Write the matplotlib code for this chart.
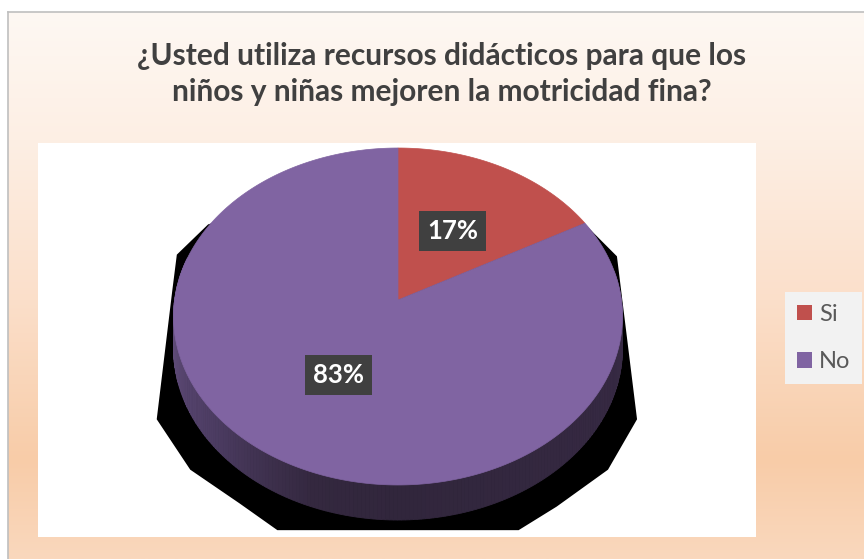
import numpy as np
import matplotlib
matplotlib.use("Agg")
import matplotlib.pyplot as plt
from matplotlib.patches import Polygon, Rectangle, Patch
from matplotlib.colors import to_rgb

# ---------------- data ----------------
title = "¿Usted utiliza recursos didácticos para que los\nniños y niñas mejoren la motricidad fina?"
categories = ["Si", "No"]
values = [17, 83]
colors = ["#C0504D", "#8064A2"]

# ---------------- figure ----------------
W, H = 864, 559
fig = plt.figure(figsize=(W / 100, H / 100), dpi=100)
ax = fig.add_axes([0, 0, 1, 1])
ax.set_xlim(0, W)
ax.set_ylim(H, 0)
ax.axis("off")

# background gradient of chart area
stops_y = [12, 140, 300, 460, 559]
stops_c = ["#FEF8F3", "#FDEFE4", "#FBDFCA", "#F8CCA8", "#FAD8BD"]
ys = np.linspace(12, 559, 300)
cols = np.array([to_rgb(c) for c in stops_c])
grad = np.stack([np.interp(ys, stops_y, cols[:, i]) for i in range(3)], axis=1)
ax.imshow(grad[:, None, :], extent=(8, W, 559, 12), aspect="auto", zorder=0)
ax.plot([8, W], [12, 12], color="#BFBFBF", lw=1.2, zorder=1)
ax.plot([8, 8], [12, H], color="#BFBFBF", lw=1.2, zorder=1)

# white plot area
ax.add_patch(Rectangle((38, 143), 718, 394, facecolor="white", edgecolor="none", zorder=1))

# ---------------- 3D pie projection ----------------
cx, rx, ry = 398.0, 223.4, 168.0
pa, pb, pc = -137.5, 300.0, 0.0979   # perspective: y = (a v + b)/(1 + c v)
depth = 31.6

def proj(u, v, z=0.0):
    s = 1.0 + pc * v
    return cx + rx * u / s, (pa * v + pb + depth * z) / s

def arc(t0, t1, z=0.0, n=200):
    t = np.radians(np.linspace(t0, t1, n))
    return np.array([proj(np.sin(a), np.cos(a), z) for a in t])

# shadow (decorative, relative to pie geometry)
sh_fx = [0.0, 0.83, 0.98, 1.07, 0.94, 0.71, 0.54, -0.54, -0.71, -0.93, -1.08, -1.01, -0.99, -0.85]
sh_fy = [-0.80, -0.46, -0.26, 0.71, 1.01, 1.23, 1.37, 1.37, 1.21, 1.01, 0.71, -0.06, -0.27, -0.45]
shadow = [(cx + rx * fx, pb + ry * fy) for fx, fy in zip(sh_fx, sh_fy)]
ax.add_patch(Polygon(shadow, closed=True, facecolor="black", edgecolor="none", zorder=2))

# side of the pie (gradient strips)
side_t = [80, 100, 180, 200, 230, 262, 285]
side_c = ["#3A2D48", "#372A44", "#31263C", "#34283F", "#4C3C62", "#5F4B78", "#624E7C"]
side_rgb = np.array([to_rgb(c) for c in side_c])
tt = np.linspace(80, 285, 220)
for t0, t1 in zip(tt[:-1], tt[1:]):
    top = arc(t0, t1, 0, 4)
    bot = arc(t1, t0, 1, 4)
    tm = 0.5 * (t0 + t1)
    col = [np.interp(tm, side_t, side_rgb[:, i]) for i in range(3)]
    ax.add_patch(Polygon(np.vstack([top, bot]), closed=True, facecolor=col,
                         edgecolor=col, lw=0.6, zorder=3))

# top faces
bounds = np.concatenate([[0], np.cumsum(values)]) / np.sum(values) * 360.0
center = proj(0, 0)
for i, (v, c) in enumerate(zip(values, colors)):
    pts = np.vstack([[center], arc(bounds[i], bounds[i + 1], 0, 300)])
    ax.add_patch(Polygon(pts, closed=True, facecolor=c, edgecolor=c, lw=0.5, zorder=4))

# data labels
for i, v in enumerate(values):
    mid = np.radians(0.5 * (bounds[i] + bounds[i + 1]))
    lx, ly = proj(0.5 * np.sin(mid), 0.5 * np.cos(mid))
    ax.text(lx, ly, f"{v}%", ha="center", va="center", color="white",
            fontsize=18.5, fontweight="bold", family="Lato", zorder=6,
            bbox=dict(boxstyle="square,pad=0.3", facecolor="#404040", edgecolor="none"))

# title
ax.text(442, 74, title, ha="center", va="center", fontsize=21.5, fontweight="bold",
        family="Lato", color="#404040", linespacing=1.38, zorder=6)

# legend
handles = [Patch(facecolor=c, edgecolor="none", label=l) for c, l in zip(colors, categories)]
leg = ax.legend(handles=handles, loc="upper left",
                bbox_to_anchor=(785 / W, 1 - 292 / H), bbox_transform=fig.transFigure,
                borderaxespad=0, frameon=True, fancybox=False, borderpad=0.5,
                handlelength=0.65, handleheight=0.65, handletextpad=0.3,
                labelspacing=1.12, prop={"family": "Lato", "size": 17})
leg.get_frame().set_facecolor("#F2F2F2")
leg.get_frame().set_edgecolor("none")
leg.get_frame().set_alpha(1)
for t in leg.get_texts():
    t.set_color("#595959")

fig.savefig("out.png", dpi=100)
